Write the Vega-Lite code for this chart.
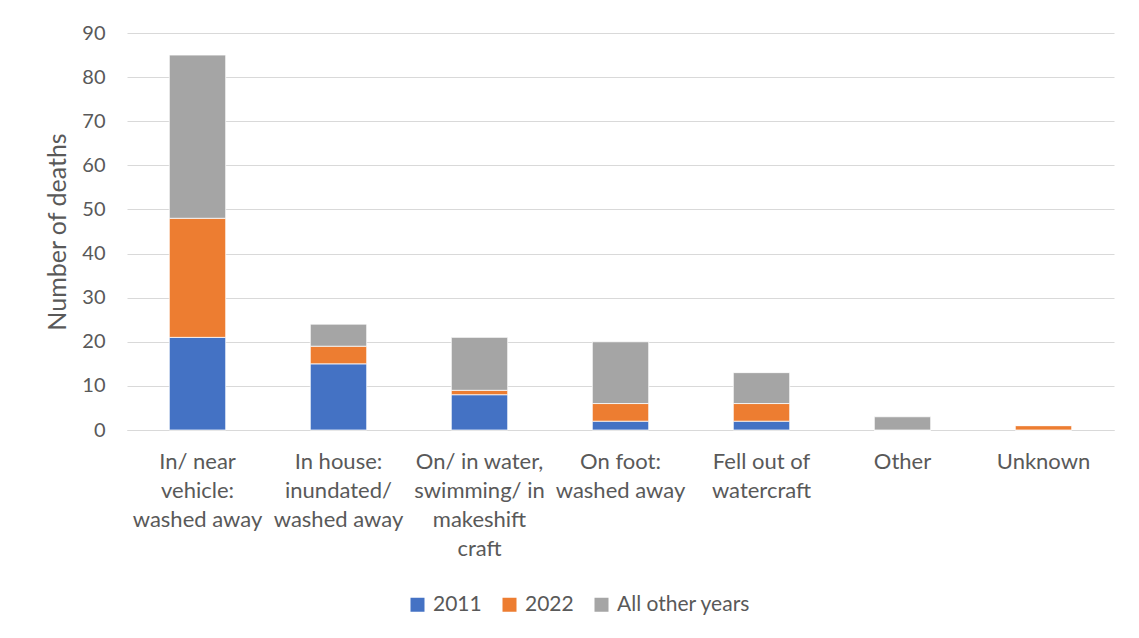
{
  "$schema": "https://vega.github.io/schema/vega-lite/v6.json",
  "autosize": "none",
  "width": 987,
  "height": 397,
  "padding": {"left": 127, "top": 33, "right": 25, "bottom": 208},
  "background": "white",
  "data": {
    "values": [
      {"cause": "In/ near\nvehicle:\nwashed away", "idx": 1, "period": "2011", "ord": 1, "deaths": 21},
      {"cause": "In/ near\nvehicle:\nwashed away", "idx": 1, "period": "2022", "ord": 2, "deaths": 27},
      {"cause": "In/ near\nvehicle:\nwashed away", "idx": 1, "period": "All other years", "ord": 3, "deaths": 37},
      {"cause": "In house:\ninundated/\nwashed away", "idx": 2, "period": "2011", "ord": 1, "deaths": 15},
      {"cause": "In house:\ninundated/\nwashed away", "idx": 2, "period": "2022", "ord": 2, "deaths": 4},
      {"cause": "In house:\ninundated/\nwashed away", "idx": 2, "period": "All other years", "ord": 3, "deaths": 5},
      {"cause": "On/ in water,\nswimming/ in\nmakeshift\ncraft", "idx": 3, "period": "2011", "ord": 1, "deaths": 8},
      {"cause": "On/ in water,\nswimming/ in\nmakeshift\ncraft", "idx": 3, "period": "2022", "ord": 2, "deaths": 1},
      {"cause": "On/ in water,\nswimming/ in\nmakeshift\ncraft", "idx": 3, "period": "All other years", "ord": 3, "deaths": 12},
      {"cause": "On foot:\nwashed away", "idx": 4, "period": "2011", "ord": 1, "deaths": 2},
      {"cause": "On foot:\nwashed away", "idx": 4, "period": "2022", "ord": 2, "deaths": 4},
      {"cause": "On foot:\nwashed away", "idx": 4, "period": "All other years", "ord": 3, "deaths": 14},
      {"cause": "Fell out of\nwatercraft", "idx": 5, "period": "2011", "ord": 1, "deaths": 2},
      {"cause": "Fell out of\nwatercraft", "idx": 5, "period": "2022", "ord": 2, "deaths": 4},
      {"cause": "Fell out of\nwatercraft", "idx": 5, "period": "All other years", "ord": 3, "deaths": 7},
      {"cause": "Other", "idx": 6, "period": "2011", "ord": 1, "deaths": 0},
      {"cause": "Other", "idx": 6, "period": "2022", "ord": 2, "deaths": 0},
      {"cause": "Other", "idx": 6, "period": "All other years", "ord": 3, "deaths": 3},
      {"cause": "Unknown", "idx": 7, "period": "2011", "ord": 1, "deaths": 0},
      {"cause": "Unknown", "idx": 7, "period": "2022", "ord": 2, "deaths": 1},
      {"cause": "Unknown", "idx": 7, "period": "All other years", "ord": 3, "deaths": 0}
    ]
  },
  "mark": {"type": "bar", "stroke": "white", "strokeWidth": 0.75},
  "encoding": {
    "x": {
      "field": "cause",
      "type": "nominal",
      "sort": {"field": "idx"},
      "scale": {"paddingInner": 0.6, "paddingOuter": 0.3},
      "axis": {
        "title": null,
        "labelAngle": 0,
        "labelExpr": "split(datum.value, '\\n')",
        "labelLineHeight": 29,
        "labelPadding": 21,
        "ticks": false,
        "domain": true,
        "domainColor": "#d9d9d9",
        "domainWidth": 1,
        "labelFontSize": 22,
        "labelColor": "#595959"
      }
    },
    "y": {
      "field": "deaths",
      "type": "quantitative",
      "stack": "zero",
      "scale": {"domain": [0, 90], "nice": false},
      "axis": {
        "title": "Number of deaths",
        "values": [0, 10, 20, 30, 40, 50, 60, 70, 80, 90],
        "ticks": false,
        "domain": false,
        "grid": true,
        "gridColor": "#d9d9d9",
        "gridWidth": 1,
        "labelPadding": 22,
        "labelFontSize": 20,
        "labelColor": "#595959",
        "titleFontSize": 25,
        "titleFontWeight": "normal",
        "titleColor": "#595959",
        "titlePadding": 11
      }
    },
    "color": {
      "field": "period",
      "type": "nominal",
      "scale": {
        "domain": ["2011", "2022", "All other years"],
        "range": ["#4472C4", "#ED7D31", "#A5A5A5"]
      },
      "legend": {
        "title": null,
        "orient": "none",
        "direction": "horizontal",
        "legendX": 280,
        "legendY": 561,
        "symbolType": "square",
        "symbolSize": 196,
        "symbolStrokeWidth": 0,
        "labelFontSize": 21,
        "labelColor": "#595959",
        "labelOffset": 5,
        "columnPadding": 17
      }
    },
    "order": {"field": "ord", "type": "quantitative"}
  },
  "config": {
    "font": "Lato",
    "view": {"stroke": null}
  }
}
